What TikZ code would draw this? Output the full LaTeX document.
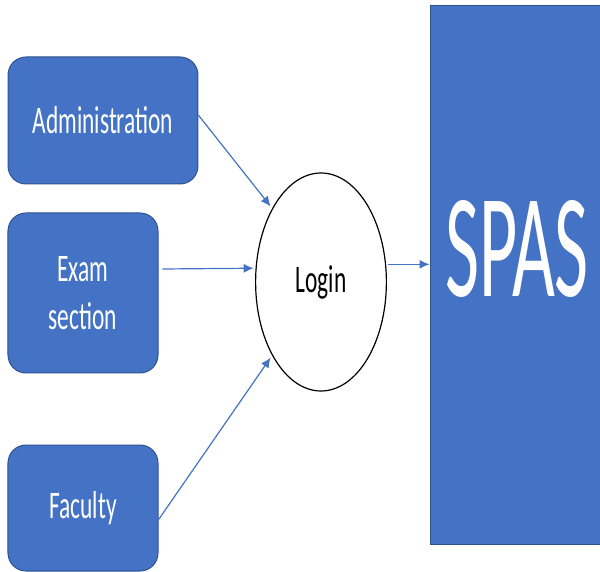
\documentclass[tikz,border=0pt]{standalone}
\usepackage{fontspec}
\setmainfont{Carlito}
\usetikzlibrary{arrows.meta,calc}
\definecolor{boxblue}{HTML}{4472C4}
\definecolor{boxedge}{HTML}{2F528F}
\tikzset{
  actor/.style={draw=boxedge, line width=0.5pt, fill=boxblue, rounded corners=9pt,
    xscale=0.6, text=white, align=center, inner sep=0pt,
    font=\fontsize{19.5}{24}\selectfont},
  loginnode/.style={draw=black, line width=0.6pt, circle, minimum size=109pt, xscale=0.6,
    inner sep=0pt, outer sep=2pt, font=\fontsize{19.5}{24}\selectfont},
  conn/.style={draw=boxblue, line width=0.6pt, -{Latex[length=5pt,width=4.5pt]}}
}
\begin{document}
\begin{tikzpicture}[x=0.5pt, y=-0.5pt]
\useasboundingbox (0,0) rectangle (600,572);
\clip (0,0) rectangle (600,572);
\node[actor, minimum width=158.3pt, minimum height=63.5pt] (admin) at (103,120.5) {Administration};
\node[actor, minimum width=125pt, minimum height=80pt] (exam) at (83,293) {Exam\\section};
\node[actor, minimum width=125pt, minimum height=63pt] (faculty) at (83,508) {Faculty};
\node[loginnode] (login) at (321,282) {Login};
\node[draw=boxedge, line width=0.5pt, fill=boxblue, minimum width=105pt, minimum height=269pt, inner sep=0pt] (spas) at (535,275) {};
\node[anchor=base, text=white, xscale=0.5, inner sep=0pt, font=\fontsize{74}{80}\selectfont] (spastext) at (517,297) {SPAS};
\draw[conn] ([yshift=2.75pt]admin.east) -- (login.138);
\draw[conn] ([shift={(2pt,12pt)}]exam.east) -- (login.173);
\draw[conn] ([yshift=-6pt]faculty.east) -- (login.222);
\draw[conn] (login.9) -- (login.9 -| spas.west);
\end{tikzpicture}
\end{document}
